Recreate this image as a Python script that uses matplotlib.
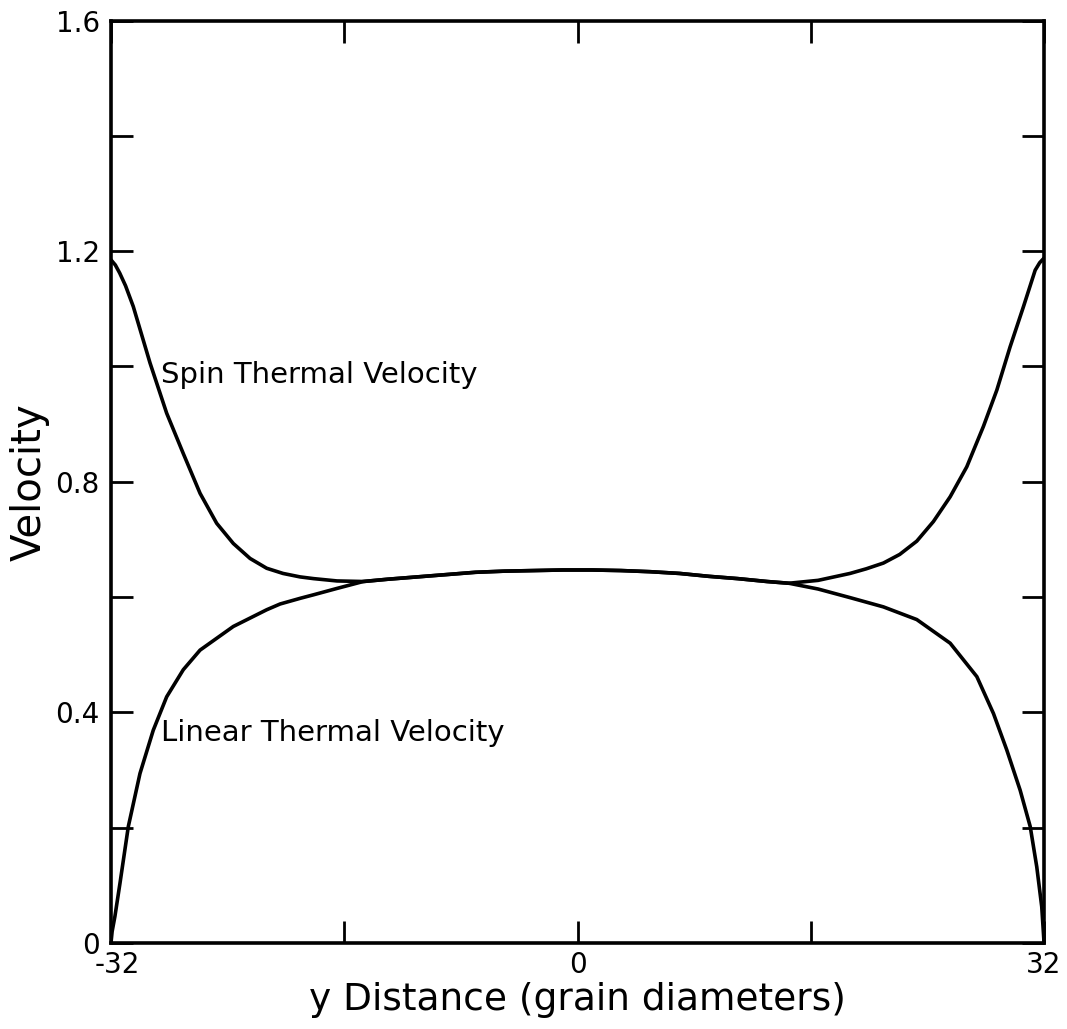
import matplotlib
matplotlib.use("Agg")
import matplotlib.pyplot as plt
import matplotlib.transforms as mtransforms
from matplotlib.ticker import FixedLocator, FixedFormatter

plt.rcParams['font.family'] = ['DejaVu Sans']

# Spin thermal velocity profile across the channel
spin_x = [-32.0, -31.7, -31.4, -31.0, -30.47, -29.32, -28.18, -27.04, -25.89, -24.75,
          -23.61, -22.46, -21.32, -20.2, -19.03, -18.1, -16.5, -14.7,
          -13.0, -11.0, -9.0, -7.0, -5.0, -3.0, -1.0, 1.0, 3.0, 5.0,
          7.0, 9.0, 11.0, 13.0, 14.5,
          16.5, 18.69, 19.8, 20.98, 22.1, 23.27, 24.41, 25.56, 26.70, 27.84,
          28.76, 29.67, 30.59, 31.39, 31.7, 32.0]
spin_v = [1.185, 1.176, 1.162, 1.140, 1.104, 1.006, 0.919, 0.849, 0.780, 0.728,
          0.693, 0.667, 0.650, 0.641, 0.635, 0.632, 0.628, 0.627,
          0.631, 0.635, 0.639, 0.643, 0.645, 0.646, 0.647, 0.647, 0.646, 0.644,
          0.641, 0.636, 0.632, 0.627, 0.624,
          0.629, 0.641, 0.649, 0.659, 0.674, 0.697, 0.731, 0.774, 0.826, 0.896,
          0.959, 1.034, 1.104, 1.167, 1.180, 1.188]

# Linear thermal velocity profile across the channel
lin_x = [-32.0, -31.92, -31.73, -31.38, -30.81, -30.01, -29.10, -28.18, -27.04, -25.89,
         -23.61, -21.32, -20.4, -19.0, -18.1, -16.5, -14.7,
         -13.0, -11.0, -9.0, -7.0, -5.0, -3.0, -1.0, 1.0, 3.0, 5.0,
         7.0, 9.0, 11.0, 13.0, 14.5,
         16.5, 18.7, 20.98, 23.27, 25.56, 27.39, 28.53, 29.44, 30.36, 31.05,
         31.5, 31.84, 31.95, 32.0]
lin_v = [0.0, 0.020, 0.046, 0.104, 0.202, 0.294, 0.369, 0.427, 0.474, 0.508,
         0.549, 0.578, 0.588, 0.598, 0.604, 0.615, 0.627,
         0.631, 0.635, 0.639, 0.643, 0.645, 0.646, 0.647, 0.647, 0.646, 0.644,
         0.641, 0.636, 0.632, 0.627, 0.624,
         0.614, 0.599, 0.583, 0.561, 0.520, 0.462, 0.398, 0.335, 0.265, 0.202,
         0.132, 0.063, 0.020, 0.0]

x_major = [-32, 0, 32]
x_major_labels = ["-32", "0", "32"]
x_minor = [-16, 16]
y_major = [0, 0.4, 0.8, 1.2, 1.6]
y_major_labels = ["0", "0.4", "0.8", "1.2", "1.6"]
y_minor = [0.2, 0.6, 1.0, 1.4]

fig = plt.figure(figsize=(10.67, 10.29), dpi=100)
ax = fig.add_axes([0.104, 0.0836, 0.8745, 0.8964])

lw = 2.6
ax.plot(spin_x, spin_v, color='black', lw=lw, solid_joinstyle='round',
        solid_capstyle='round')
ax.plot(lin_x, lin_v, color='black', lw=lw, solid_joinstyle='round',
        solid_capstyle='round')

ax.set_xlim(-32, 32)
ax.set_ylim(0, 1.6)

ax.xaxis.set_major_locator(FixedLocator(x_major))
ax.xaxis.set_major_formatter(FixedFormatter(x_major_labels))
ax.xaxis.set_minor_locator(FixedLocator(x_minor))
ax.yaxis.set_major_locator(FixedLocator(y_major))
ax.yaxis.set_major_formatter(FixedFormatter(y_major_labels))
ax.yaxis.set_minor_locator(FixedLocator(y_minor))

for which in ('major', 'minor'):
    ax.tick_params(axis='both', which=which, direction='in', length=16, width=2.0,
                   top=True, right=True, color='black')
ax.tick_params(axis='x', which='major', labelsize=20, pad=6)
ax.tick_params(axis='y', which='major', labelsize=20, pad=8)

# nudge the leftmost x label clear of the y-axis "0"
fig.canvas.draw()
first = ax.get_xticklabels()[0]
first.set_transform(first.get_transform() +
                    mtransforms.ScaledTranslation(6 / 100, 0, fig.dpi_scale_trans))

for s in ax.spines.values():
    s.set_linewidth(2.6)

ax.set_xlabel("y Distance (grain diameters)", fontsize=27, labelpad=2)
ax.set_ylabel("Velocity", fontsize=29, labelpad=4)

ax.text(-28.6, 0.985, "Spin Thermal Velocity", fontsize=21, ha='left', va='center')
ax.text(-28.6, 0.364, "Linear Thermal Velocity", fontsize=21, ha='left', va='center')

fig.savefig("out.png", dpi=100)
